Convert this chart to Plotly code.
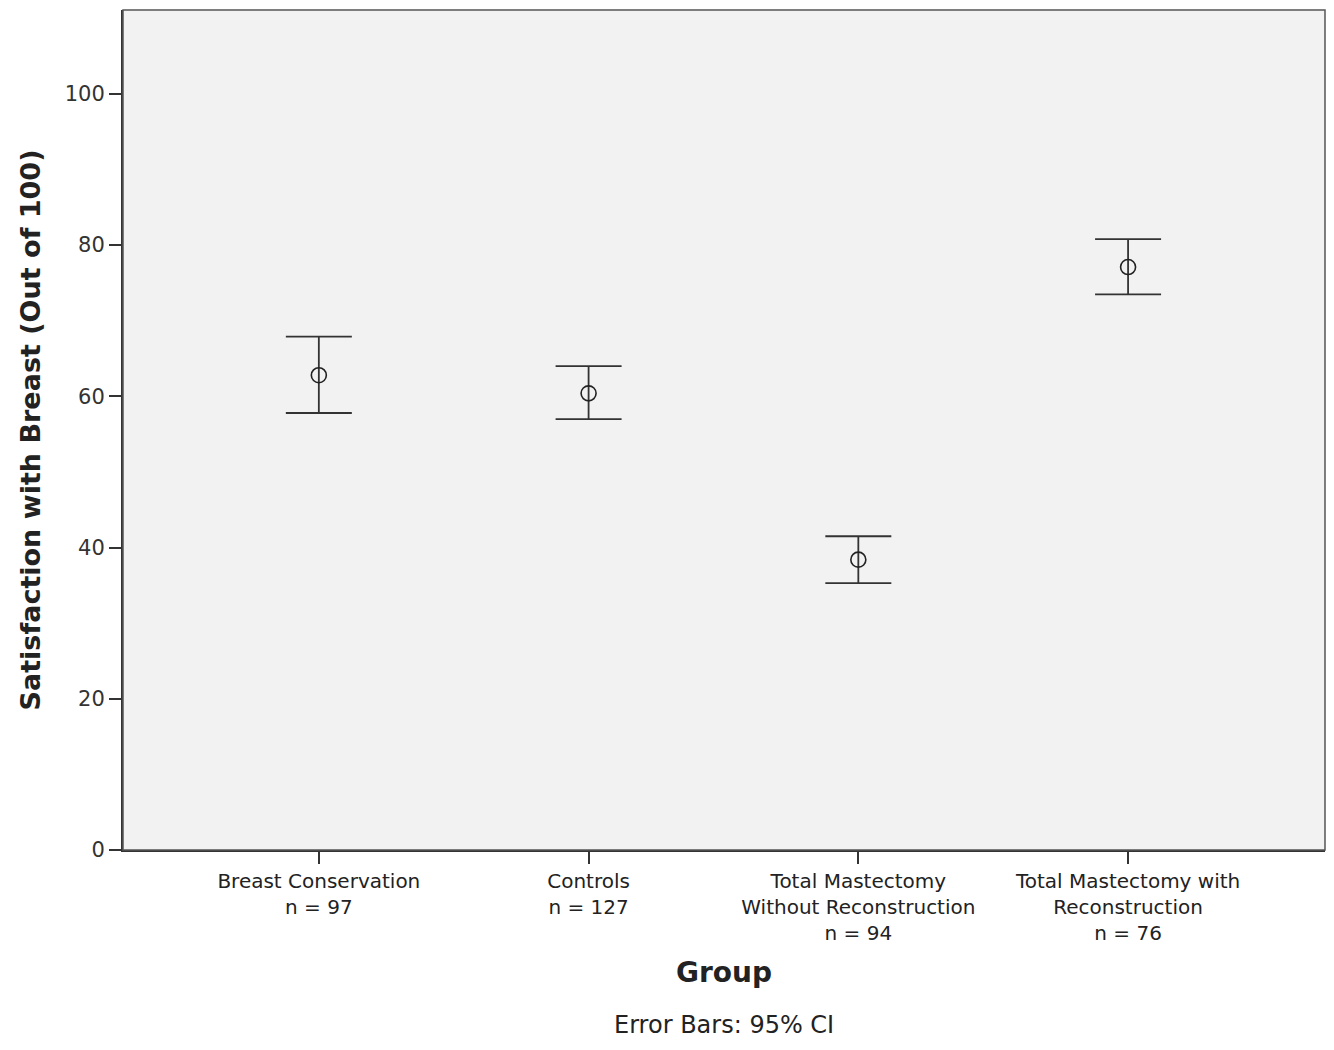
import plotly.graph_objects as go

categories = ["Breast Conservation<br>n = 97", "Controls<br>n = 127",
              "Total Mastectomy<br>Without Reconstruction<br>n = 94",
              "Total Mastectomy with<br>Reconstruction<br>n = 76"]
means = [62.8, 60.4, 38.4, 77.1]
upper = [67.9, 64.0, 41.5, 80.8]
lower = [57.8, 57.0, 35.3, 73.5]
y_ticks = [0, 20, 40, 60, 80, 100]

err_plus = [u - m for u, m in zip(upper, means)]
err_minus = [m - l for m, l in zip(means, lower)]
xs = list(range(len(categories)))

fig = go.Figure()
fig.add_trace(go.Scatter(
    x=xs, y=means, mode="markers",
    marker=dict(symbol="circle-open", size=15, color="#222222", line=dict(width=1.6)),
    error_y=dict(type="data", symmetric=False, array=err_plus, arrayminus=err_minus,
                 color="#333333", thickness=1.8, width=33),
    showlegend=False,
))

font_family = "DejaVu Sans, Liberation Sans, sans-serif"
fig.update_layout(
    width=1318, height=1034,
    margin=dict(l=115, r=1, t=2, b=192),
    paper_bgcolor="white", plot_bgcolor="#f2f2f2",
    font=dict(family=font_family, color="#222222"),
    xaxis=dict(
        range=[-0.726, 3.73], tickmode="array", tickvals=xs, ticktext=categories,
        ticks="outside", ticklen=12, tickwidth=1.5, tickcolor="#333333",
        showline=True, linecolor="#333333", linewidth=2, mirror=False,
        showgrid=False, zeroline=False, tickfont=dict(size=20, color="#222222"),
    ),
    yaxis=dict(
        range=[0, 111.1], tickmode="array", tickvals=y_ticks,
        ticks="outside", ticklen=12, tickwidth=1.5, tickcolor="#333333",
        showline=True, linecolor="#333333", linewidth=2,
        showgrid=False, zeroline=False, tickfont=dict(size=21, color="#333333"),
        title=dict(text="<b>Satisfaction with Breast (Out of 100)</b>", font=dict(size=27), standoff=16),
    ),
)
fig.add_shape(type="rect", xref="paper", yref="paper", x0=0, y0=0, x1=1, y1=1,
              line=dict(color="#555555", width=1.5))
fig.add_annotation(text="<b>Group</b>", xref="paper", yref="paper",
                   x=0.5, y=0, yshift=-122, yanchor="middle", showarrow=False,
                   font=dict(size=28, color="#222222"))
fig.add_annotation(text="Error Bars: 95% CI", xref="paper", yref="paper",
                   x=0.5, y=0, yshift=-175, yanchor="middle", showarrow=False,
                   borderpad=0, font=dict(size=24, color="#222222"))

fig.write_html("out.html")
